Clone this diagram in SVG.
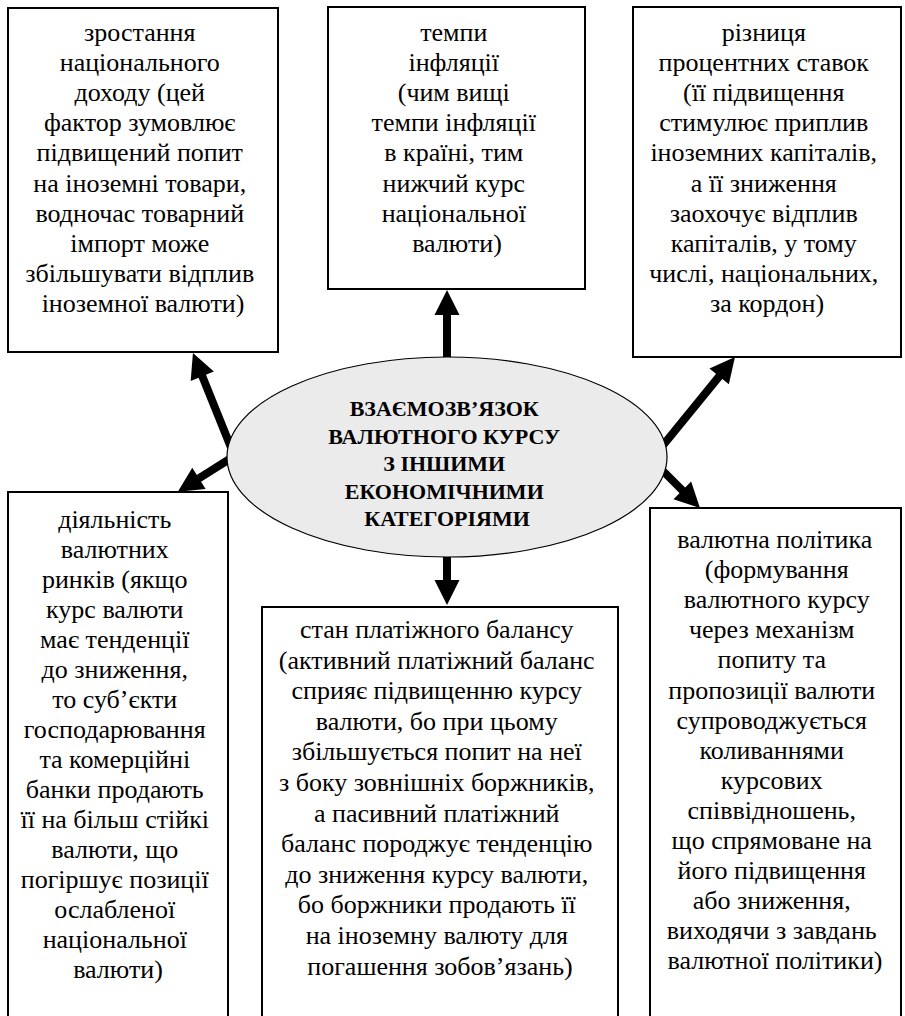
<svg xmlns="http://www.w3.org/2000/svg" width="905" height="1016" viewBox="0 0 905 1016">
  <style>
    .box { fill: #ffffff; stroke: #000000; stroke-width: 2; }
    .hub { fill: #ebebeb; stroke: #000000; stroke-width: 1.2; }
    .t { font-family: 'Liberation Serif', 'Times New Roman', serif; font-size: 26px; fill: #000000; text-anchor: middle; }
    .h { font-family: 'Liberation Serif', 'Times New Roman', serif; font-size: 22px; font-weight: bold; fill: #000000; text-anchor: middle; }
    .arrow { stroke: #000000; stroke-width: 8; fill: none; marker-end: url(#head); }
  </style>
  <defs>
    <marker id="head" markerUnits="userSpaceOnUse" markerWidth="26" markerHeight="26" refX="1" refY="12.5" orient="auto" overflow="visible">
      <path d="M0,0 L25,12.5 L0,25 Z" fill="#000000"/>
    </marker>
  </defs>
  <rect width="905" height="1016" fill="#ffffff"/>

  <!-- top left: national income -->
  <g id="income">
    <rect class="box" x="8" y="8" width="270" height="344"/>
    <text class="t" x="143" y="41">
      <tspan x="143" dy="0">зростання</tspan>
      <tspan x="143" dy="30.1">національного</tspan>
      <tspan x="143" dy="30.1">доходу (цей</tspan>
      <tspan x="143" dy="30.1">фактор зумовлює</tspan>
      <tspan x="143" dy="30.1">підвищений попит</tspan>
      <tspan x="143" dy="30.1">на іноземні товари,</tspan>
      <tspan x="143" dy="30.1">водночас товарний</tspan>
      <tspan x="143" dy="30.1">імпорт може</tspan>
      <tspan x="143" dy="30.1">збільшувати відплив</tspan>
      <tspan x="143" dy="30.1">іноземної валюти)</tspan>
    </text>
  </g>

  <!-- top middle: inflation -->
  <g id="inflation">
    <rect class="box" x="328" y="7" width="257" height="282"/>
    <text class="t" x="457" y="41">
      <tspan x="457" dy="0">темпи</tspan>
      <tspan x="457" dy="30.1">інфляції</tspan>
      <tspan x="457" dy="30.1">(чим вищі</tspan>
      <tspan x="457" dy="30.1">темпи інфляції</tspan>
      <tspan x="457" dy="30.1">в країні, тим</tspan>
      <tspan x="457" dy="30.1">нижчий курс</tspan>
      <tspan x="457" dy="30.1">національної</tspan>
      <tspan x="457" dy="30.1">валюти)</tspan>
    </text>
  </g>

  <!-- top right: interest rate differential -->
  <g id="interest">
    <rect class="box" x="633" y="7" width="268" height="350"/>
    <text class="t" x="767" y="41">
      <tspan x="767" dy="0">різниця</tspan>
      <tspan x="767" dy="30.1">процентних ставок</tspan>
      <tspan x="767" dy="30.1">(її підвищення</tspan>
      <tspan x="767" dy="30.1">стимулює приплив</tspan>
      <tspan x="767" dy="30.1">іноземних капіталів,</tspan>
      <tspan x="767" dy="30.1">а її зниження</tspan>
      <tspan x="767" dy="30.1">заохочує відплив</tspan>
      <tspan x="767" dy="30.1">капіталів, у тому</tspan>
      <tspan x="767" dy="30.1">числі, національних,</tspan>
      <tspan x="767" dy="30.1">за кордон)</tspan>
    </text>
  </g>

  <!-- bottom left: currency markets -->
  <g id="markets">
    <rect class="box" x="8" y="492" width="220" height="540"/>
    <text class="t" x="118" y="528">
      <tspan x="118" dy="0">діяльність</tspan>
      <tspan x="118" dy="30">валютних</tspan>
      <tspan x="118" dy="30">ринків (якщо</tspan>
      <tspan x="118" dy="30">курс валюти</tspan>
      <tspan x="118" dy="30">має тенденції</tspan>
      <tspan x="118" dy="30">до зниження,</tspan>
      <tspan x="118" dy="30">то суб’єкти</tspan>
      <tspan x="118" dy="30">господарювання</tspan>
      <tspan x="118" dy="30">та комерційні</tspan>
      <tspan x="118" dy="30">банки продають</tspan>
      <tspan x="118" dy="30">її на більш стійкі</tspan>
      <tspan x="118" dy="30">валюти, що</tspan>
      <tspan x="118" dy="30">погіршує позиції</tspan>
      <tspan x="118" dy="30">ослабленої</tspan>
      <tspan x="118" dy="30">національної</tspan>
      <tspan x="118" dy="30">валюти)</tspan>
    </text>
  </g>

  <!-- bottom middle: balance of payments -->
  <g id="balance">
    <rect class="box" x="262" y="607" width="356" height="425"/>
    <text class="t" x="440" y="638">
      <tspan x="440" dy="0">стан платіжного балансу</tspan>
      <tspan x="440" dy="30.6">(активний платіжний баланс</tspan>
      <tspan x="440" dy="30.6">сприяє підвищенню курсу</tspan>
      <tspan x="440" dy="30.6">валюти, бо при цьому</tspan>
      <tspan x="440" dy="30.6">збільшується попит на неї</tspan>
      <tspan x="440" dy="30.6">з боку зовнішніх боржників,</tspan>
      <tspan x="440" dy="30.6">а пасивний платіжний</tspan>
      <tspan x="440" dy="30.6">баланс породжує тенденцію</tspan>
      <tspan x="440" dy="30.6">до зниження курсу валюти,</tspan>
      <tspan x="440" dy="30.6">бо боржники продають її</tspan>
      <tspan x="440" dy="30.6">на іноземну валюту для</tspan>
      <tspan x="440" dy="30.6">погашення зобов’язань)</tspan>
    </text>
  </g>

  <!-- bottom right: currency policy -->
  <g id="policy">
    <rect class="box" x="650" y="508" width="251" height="524"/>
    <text class="t" x="775" y="548">
      <tspan x="778" dy="0">валютна політика</tspan>
      <tspan x="780" dy="30.1">(формування</tspan>
      <tspan x="780" dy="30.1">валютного курсу</tspan>
      <tspan x="775" dy="30.1">через механізм</tspan>
      <tspan x="775" dy="30.1">попиту та</tspan>
      <tspan x="775" dy="30.1">пропозиції валюти</tspan>
      <tspan x="775" dy="30.1">супроводжується</tspan>
      <tspan x="775" dy="30.1">коливаннями</tspan>
      <tspan x="775" dy="30.1">курсових</tspan>
      <tspan x="775" dy="30.1">співвідношень,</tspan>
      <tspan x="775" dy="30.1">що спрямоване на</tspan>
      <tspan x="775" dy="30.1">його підвищення</tspan>
      <tspan x="775" dy="30.1">або зниження,</tspan>
      <tspan x="775" dy="30.1">виходячи з завдань</tspan>
      <tspan x="775" dy="30.1">валютної політики)</tspan>
    </text>
  </g>

  <!-- arrows from the hub out to each factor -->
  <g id="connectors">
    <line class="arrow" x1="232" y1="450" x2="201.9" y2="375.3"/>
    <line class="arrow" x1="236" y1="455" x2="198.1" y2="478.9"/>
    <line class="arrow" x1="447" y1="365" x2="447" y2="314"/>
    <line class="arrow" x1="660" y1="449" x2="719.8" y2="375.6"/>
    <line class="arrow" x1="660" y1="468" x2="683" y2="491"/>
    <line class="arrow" x1="447" y1="550" x2="447" y2="581"/>
  </g>

  <!-- central hub -->
  <g id="hub">
    <ellipse class="hub" cx="447" cy="457" rx="220" ry="100"/>
    <text class="h" x="447" y="416">
      <tspan x="447" dy="0">ВЗАЄМОЗВ’ЯЗОК</tspan>
      <tspan x="447" dy="27.5">ВАЛЮТНОГО КУРСУ</tspan>
      <tspan x="447" dy="27.5">З ІНШИМИ</tspan>
      <tspan x="447" dy="27.5">ЕКОНОМІЧНИМИ</tspan>
      <tspan x="447" dy="27.5">КАТЕГОРІЯМИ</tspan>
    </text>
  </g>
</svg>
